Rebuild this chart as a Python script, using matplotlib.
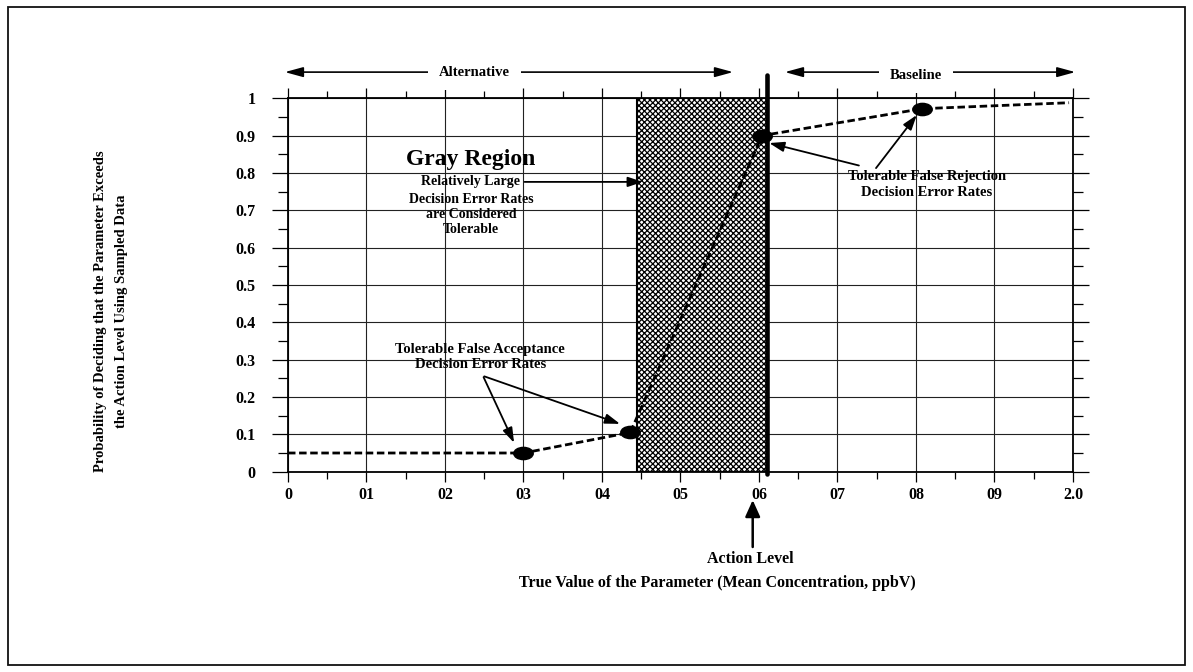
import matplotlib
matplotlib.use("Agg")
import matplotlib.pyplot as plt
from matplotlib.path import Path
from matplotlib.patches import Rectangle
from matplotlib.transforms import Affine2D
from matplotlib.ticker import FixedLocator, MultipleLocator

# ---------------- data ----------------
x_ticks = [0, 1, 2, 3, 4, 5, 6, 7, 8, 9, 10]
x_tick_labels = ["0", "01", "02", "03", "04", "05", "06", "07", "08", "09", "2.0"]
y_ticks = [0, 0.1, 0.2, 0.3, 0.4, 0.5, 0.6, 0.7, 0.8, 0.9, 1.0]
y_tick_labels = ["0", "0.1", "0.2", "0.3", "0.4", "0.5", "0.6", "0.7", "0.8", "0.9", "1"]

curve_x = [0.0, 3.0, 4.36, 6.04, 8.08, 9.95]
curve_y = [0.05, 0.05, 0.105, 0.90, 0.972, 0.988]
point_x = [3.0, 4.36, 6.04, 8.08]
point_y = [0.05, 0.105, 0.90, 0.972]

gray_lo, gray_hi = 4.44, 6.1
action_level = 6.1

# ---------------- style ----------------
plt.rcParams["font.family"] = ["Liberation Serif", "DejaVu Serif"]
plt.rcParams["font.weight"] = "bold"
plt.rcParams["hatch.linewidth"] = 0.9

fig = plt.figure(figsize=(11.93, 6.72), dpi=100)
ax = fig.add_axes([0.2414, 0.2981, 0.6580, 0.5557])
ax.set_xlim(0, 10)
ax.set_ylim(0, 1)

# outer frame
fig.patches.append(Rectangle((0.0067, 0.0104), 0.9866, 0.979, transform=fig.transFigure,
                             fill=False, edgecolor="#111111", lw=1.3))

# grid and ticks
ax.set_axisbelow(True)
ax.grid(True, which="major", color="#222222", lw=0.8)
ax.xaxis.set_major_locator(FixedLocator(x_ticks))
ax.xaxis.set_minor_locator(MultipleLocator(0.5))
ax.yaxis.set_major_locator(FixedLocator(y_ticks))
ax.yaxis.set_minor_locator(MultipleLocator(0.05))
ax.set_xticklabels(x_tick_labels, fontsize=11.5, fontweight="bold")
ax.set_yticklabels(y_tick_labels, fontsize=11.5, fontweight="bold")
ax.tick_params(axis="both", which="both", direction="out", top=True, right=True,
               color="black", width=0.9)
ax.tick_params(axis="y", which="major", length=11.5, pad=12, labelright=False)
ax.tick_params(axis="y", which="minor", length=7)
ax.tick_params(axis="x", which="major", length=7, pad=4, labeltop=False)
ax.tick_params(axis="x", which="minor", length=5)
for s in ax.spines.values():
    s.set_linewidth(1.3)
    s.set_color("black")

# gray region
ax.add_patch(Rectangle((gray_lo, 0), gray_hi - gray_lo, 1, facecolor="white",
                       edgecolor="black", hatch="xxxxxx", lw=1.5, zorder=1.5))

# decision performance curve
ax.plot(curve_x, curve_y, color="black", lw=2.0, ls=(0, (2.7, 1.3)), zorder=3,
        clip_on=False)
ellipse = Path.unit_circle().transformed(Affine2D().scale(1.0, 0.63))
ax.plot(point_x, point_y, ls="none", marker=ellipse, ms=14, color="black", zorder=4)

# action level line
ax.plot([action_level, action_level], [-0.005, 1.063], color="black", lw=3.3,
        solid_capstyle="round", clip_on=False, zorder=5)

# top double arrows
dbl = dict(arrowstyle="<|-|>,head_length=1.1,head_width=0.3", mutation_scale=10,
           lw=1.2, color="black", shrinkA=0, shrinkB=0)
ax.annotate("", xy=(-0.04, 1.07), xytext=(5.67, 1.07), arrowprops=dbl,
            annotation_clip=False)
ax.text(2.38, 1.07, "Alternative", ha="center", va="center", fontsize=10.5,
        fontweight="bold", bbox=dict(facecolor="white", edgecolor="none", pad=8),
        zorder=6, clip_on=False)
ax.annotate("", xy=(6.33, 1.07), xytext=(10.03, 1.07), arrowprops=dbl,
            annotation_clip=False)
ax.text(8.0, 1.06, "Baseline", ha="center", va="center", fontsize=10.5,
        fontweight="bold", bbox=dict(facecolor="white", edgecolor="none", pad=8),
        zorder=6, clip_on=False)

# gray region annotation
gx = 2.33
fs = 10.5
fs_g = 10
ax.text(gx, 0.836, "Gray Region", ha="center", va="center", fontsize=17, fontweight="bold")
sa = dict(arrowstyle="-|>,head_length=0.9,head_width=0.3", mutation_scale=10,
          lw=1.3, color="black", shrinkA=1, shrinkB=0)
ax.annotate("Relatively Large", xy=(4.52, 0.776), xytext=(gx, 0.776), ha="center",
            va="center", fontsize=fs_g, fontweight="bold", arrowprops=sa)
ax.text(gx, 0.7295, "Decision Error Rates", ha="center", va="center", fontsize=fs_g)
ax.text(gx, 0.6875, "are Considered", ha="center", va="center", fontsize=fs_g)
ax.text(gx, 0.648, "Tolerable", ha="center", va="center", fontsize=fs_g)

# false acceptance annotation
ax.text(2.45, 0.326, "Tolerable False Acceptance", ha="center", va="center", fontsize=fs)
ax.text(2.45, 0.286, "Decision Error Rates", ha="center", va="center", fontsize=fs)
ax.annotate("", xy=(2.88, 0.0773), xytext=(2.484, 0.2565), arrowprops=sa)
ax.annotate("", xy=(4.23, 0.128), xytext=(2.484, 0.2565), arrowprops=sa)

# false rejection annotation
ax.text(8.14, 0.79, "Tolerable False Rejection", ha="center", va="center", fontsize=fs)
ax.text(8.14, 0.748, "Decision Error Rates", ha="center", va="center", fontsize=fs)
ax.annotate("", xy=(6.13, 0.88), xytext=(7.29, 0.819), arrowprops=sa)
ax.annotate("", xy=(8.01, 0.955), xytext=(7.48, 0.81), arrowprops=sa)

# action level arrow and label
ax.annotate("", xy=(5.92, -0.076), xytext=(5.92, -0.2017), annotation_clip=False,
            arrowprops=dict(arrowstyle="-|>,head_length=1.0,head_width=0.45",
                            mutation_scale=10, lw=1.8, color="black",
                            shrinkA=0, shrinkB=0))
ax.text(5.885, -0.234, "Action Level", ha="center", va="center", fontsize=11.5,
        clip_on=False)
ax.set_xlabel("True Value of the Parameter (Mean Concentration, ppbV)", fontsize=11.5,
              fontweight="bold", va="center")
ax.xaxis.set_label_coords(0.5465, -0.298)

# y axis label
fig.text(111 / 1193, 1 - 311 / 672,
         "Probability of Deciding that the Parameter Exceeds\nthe Action Level Using Sampled Data",
         rotation=90, ha="center", va="center", fontsize=10.5, fontweight="bold",
         multialignment="center", linespacing=1.85)

fig.savefig("out.png", dpi=100)
